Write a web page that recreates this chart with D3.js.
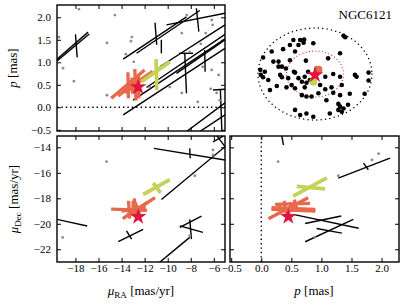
<!DOCTYPE html>
<html><head><meta charset="utf-8">
<script src="https://cdn.jsdelivr.net/npm/d3@7"></script>
<style>
body{margin:0;background:#fff}
text{font-family:"Liberation Serif","DejaVu Serif",serif;fill:#000}
</style>
</head><body>
<svg id="c" width="407" height="305"></svg>
<script>
// ---------- tick labels ----------
const muRATicks = [-18,-16,-14,-12,-10,-8,-6];
const pTicks = [-0.5,0,0.5,1,1.5,2];
const muDecTicks = [-22,-20,-18,-16,-14];
const clusterName = "NGC6121";

// ---------- highlighted stars (muRA, muDec, parallax) ----------
const target = {muRA:-12.56, muDec:-19.44, p:0.45};
const limeStar = {muRA:-10.97, muDec:-17.18, p:0.82};

// ---------- error crosses: [x1,y1,x2,y2] in data units ----------
// top-left: muRA vs parallax
const tlBlack = [
 [-19.6,1.03,-16.8,1.63],[-19.6,1.07,-16.9,1.67],[-18.0,1.62,-17.85,1.11],
 [-13.86,-0.17,-5.03,1.31],[-13.0,0.16,-5.03,1.52],[-11.84,0.44,-5.03,1.62],
 [-13.86,1.07,-8.37,2.01],[-12.7,1.2,-7.22,2.15],[-10.1,1.83,-5.03,2.09],
 [-10.68,0.9,-5.03,1.83],[-9.24,0.755,-5.03,1.5],[-8.37,-0.54,-5.03,0.1],
 [-7.22,-0.54,-5.03,-0.17],[-11.1,1.88,-10.95,1.39],[-10.55,1.5,-10.55,1.2],
 [-8.52,1.2,-8.37,0.31],[-6.79,1.27,-6.75,0.79],[-7.51,2.2,-7.3,1.68],
 [-5.43,0.385,-5.3,-0.54],[-6.07,0.385,-5.03,0.4],[-9.0,1.2,-7.8,1.2]
];
const tlOrange = [
 [-14.9,0.2,-12.0,0.83],[-13.45,0.78,-13.4,0.2],
 [-14.3,0.25,-11.6,0.75],[-12.85,0.85,-12.75,0.15],
 [-13.7,0.32,-11.3,0.8],[-12.55,0.7,-12.5,0.2],
 [-14.0,0.36,-12.0,0.66],[-13.1,0.66,-13.05,0.3]
];
const tlLime = [[-12.27,0.57,-9.82,1.01],[-11.0,1.07,-10.95,0.385]];

// bottom-left: muRA vs muDec
const blBlack = [
 [-19.63,-19.65,-16.98,-20.17],
 [-14.29,-21.41,-12.13,-20.43],[-13.57,-20.55,-13.13,-21.2],
 [-10.54,-18.1,-5.03,-13.95],
 [-11.2,-14.08,-5.03,-14.99],[-8.09,-14.08,-8.05,-14.85],
 [-6.07,-13.57,-5.03,-13.04],[-5.78,-13.04,-5.03,-13.95],
 [-8.95,-20.29,-7.07,-19.39],[-8.95,-20.17,-6.94,-20.68],
 [-8.09,-19.65,-7.94,-21.2],[-10.8,-23.1,-8.09,-21.07]
];
const blOrange = [
 [-14.9,-18.85,-11.8,-18.95],[-13.4,-18.2,-13.3,-19.6],
 [-13.9,-19.6,-11.1,-17.95],[-12.9,-18.2,-12.4,-19.2],
 [-13.5,-19.3,-11.7,-18.3],[-12.9,-18.0,-12.8,-19.3],
 [-14.0,-19.0,-11.9,-18.7],[-13.0,-18.2,-13.0,-19.4]
];
const blLime = [[-12.13,-17.7,-9.82,-16.54],[-11.26,-16.8,-10.62,-17.57]];

// bottom-right: parallax vs muDec
const brBlack = [
 [1.28,-16.41,2.14,-14.85],[1.70,-15.24,1.78,-15.76],
 [0.53,-19.26,1.62,-20.35],[0.73,-19.98,1.33,-19.39],
 [0.73,-21.41,1.53,-19.65],[0.92,-20.37,1.34,-20.73],
 [0.34,-13.1,0.37,-13.82]
];
const brOrange = [
 [0.17,-18.74,0.9,-18.87],[0.12,-19.6,0.78,-17.96],
 [0.23,-18.48,0.81,-18.4],[0.17,-18.87,0.9,-19.0],
 [0.38,-18.2,0.42,-19.3],[0.48,-18.3,0.5,-19.1],
 [0.3,-18.5,0.33,-19.2],[0.55,-18.1,0.6,-19.0]
];
const brLime = [[0.53,-17.83,1.09,-16.4],[0.59,-17.06,1.06,-17.26]];

// ---------- faint gray field points ----------
const tlGray = [[-17.7,2.18],[-14.58,2.05],[-19.43,1.56],[-15.27,1.43],[-13.11,1.56],[-13.19,1.47],
 [-13.63,1.18],[-12.94,1.01],[-19.08,0.87],[-18.13,0.58],[-15.27,0.27],[-8.78,1.65],[-8.35,2.05],
 [-6.7,1.65],[-6.18,1.94],[-6.1,1.83],[-7.13,1.41],[-8.09,1.23],[-6.96,0.9],[-6.18,0.83],
 [-11.55,0.45],[-9.82,0.45],[-8.78,0.32],[-7.39,0.12],[-6.27,0.41],[-5.75,0.32],[-5.49,0.16],[-5.58,0.72]];
const blGray = [[-15.3,-15.12],[-19.11,-21.07],[-7.65,-16.23],[-6.07,-14.2],[-6.07,-14.6],[-8.09,-20.94]];
const brGray = [[0.28,-15.12],[1.28,-16.23],[1.84,-14.98],[1.95,-14.5],[0.89,-21.07]];

// ---------- sky positions (normalised to cluster radius) ----------
const skyMembers = [[0.50,0.83],[0.53,0.80],[-0.38,0.74],[-0.26,0.74],[-0.19,0.75],[-0.20,0.68],[-0.44,0.63],
 [-0.03,0.67],[-0.29,0.63],[-0.56,0.54],[-0.76,0.49],[-0.35,0.49],[0.44,0.45],[0.23,0.34],[-0.16,0.29],
 [-0.44,0.30],[-0.91,0.36],[-0.73,0.27],[-0.64,0.27],[-0.64,0.16],[-0.58,0.16],[-0.51,0.12],[-0.37,0.05],
 [-0.96,0.09],[-0.88,0.05],[-0.95,-0.02],[-0.91,-0.07],[-0.82,-0.13],[-0.61,-0.02],[-0.58,-0.07],[-0.47,-0.09],
 [-0.35,0.03],[-0.29,-0.09],[-0.12,0.05],[-0.18,-0.06],[-0.09,-0.13],[-0.23,-0.17],[-0.15,-0.19],[0.03,0.12],
 [0.18,-0.06],[0.32,0.0],[0.44,-0.06],[0.70,-0.02],[0.73,-0.06],[0.94,0.03],[0.94,-0.14],[-0.79,-0.35],
 [-0.67,-0.26],[-0.50,-0.29],[-0.41,-0.24],[-0.35,-0.31],[-0.18,-0.29],[-0.23,-0.46],[-0.15,-0.49],[-0.06,-0.49],
 [0.06,-0.42],[0.09,-0.24],[0.18,-0.33],[0.29,-0.29],[0.32,-0.41],[0.47,-0.24],[0.44,-0.46],[0.61,-0.43],
 [0.87,-0.43],[0.20,-0.57],[0.41,-0.65],[0.44,-0.71],[0.50,-0.75],[0.58,-0.67],[0.47,-0.82],[0.41,-0.78],
 [-0.35,-0.78],[-0.26,-0.89],[-0.15,-0.86],[-0.03,-0.93],[0.26,-0.86]];
const skyTarget = [0.0,-0.02];
const skyOrange = [0.06,0.09];
const skyLime = [-0.03,-0.17];
const outerRadius = 1.0, innerRadius = 0.5;

// ---------- drawing ----------
const svg = d3.select("#c");
const C = {black:"#000", gray:"#8c8c8c", orange:"#e8684a", lime:"#c5d25a", red:"#e0143c"};

const xRA = d3.scaleLinear().domain([-19.6,-5.03]).range([57,225]);
const yP = d3.scaleLinear().domain([-0.527,2.273]).range([131,5]);
const yDec = d3.scaleLinear().domain([-23.0,-13.11]).range([262,136]);
const xP = d3.scaleLinear().domain([-0.52,2.29]).range([230,399]);
const xU = d3.scaleLinear().domain([-1,1]).range([258,372]);
const yV = d3.scaleLinear().domain([-1,1]).range([120,28]);

const fmtP = d3.format(".1f"), fmtI = d3.format("d");

function panel(id, xs, ys, xt, yt, xf, yf, showX, showY){
  const [x0,x1] = xs.range(), [y1,y0] = ys.range();
  svg.append("clipPath").attr("id",id).append("rect")
    .attr("x",x0).attr("y",y0).attr("width",x1-x0).attr("height",y1-y0);
  const g = svg.append("g");
  const axes = [
    [d3.axisBottom(xs).tickValues(xt).tickFormat(showX?xf:""), `translate(0,${y1})`],
    [d3.axisTop(xs).tickValues(xt).tickFormat(""), `translate(0,${y0})`],
    [d3.axisLeft(ys).tickValues(yt).tickFormat(showY?yf:""), `translate(${x0},0)`],
    [d3.axisRight(ys).tickValues(yt).tickFormat(""), `translate(${x1},0)`]
  ];
  axes.forEach(([ax,tr],i)=>{
    ax.tickSizeInner(-4).tickSizeOuter(0).tickPadding(i===0?2:6);
    const a = g.append("g").attr("transform",tr).call(ax);
    a.select(".domain").remove();
    a.selectAll("line").attr("stroke","#000").attr("stroke-width",1);
    a.attr("font-family",null).attr("font-size",null);
    a.selectAll("text").style("font-size","11px");
  });
  const body = svg.append("g").attr("clip-path",`url(#${id})`);
  svg.append("rect").attr("x",x0).attr("y",y0).attr("width",x1-x0).attr("height",y1-y0)
    .attr("fill","none").attr("stroke","#000").attr("stroke-width",1.4);
  return body;
}

function segs(g, data, xs, ys, color, w){
  g.selectAll(null).data(data).join("line")
    .attr("x1",d=>xs(d[0])).attr("y1",d=>ys(d[1]))
    .attr("x2",d=>xs(d[2])).attr("y2",d=>ys(d[3]))
    .attr("stroke",color).attr("stroke-width",w);
}
function dots(g, data, xs, ys, color, r){
  g.selectAll(null).data(data).join("circle")
    .attr("cx",d=>xs(d[0])).attr("cy",d=>ys(d[1])).attr("r",r).attr("fill",color);
}
const star = d3.symbol(d3.symbolStar, 86)();
function drawStar(g, x, y){
  g.append("path").attr("d", star)
    .attr("transform",`translate(${x},${y})`).attr("fill",C.red);
}

// Top-left
const tl = panel("cTL", xRA, yP, muRATicks, pTicks, fmtI, fmtP, false, true);
tl.append("line").attr("x1",xRA.range()[0]).attr("x2",xRA.range()[1])
  .attr("y1",yP(0)).attr("y2",yP(0)).attr("stroke","#000").attr("stroke-width",1.4).attr("stroke-dasharray","1.4,3");
segs(tl, tlBlack, xRA, yP, C.black, 1.4);
dots(tl, tlGray, xRA, yP, C.gray, 1.4);
segs(tl, tlOrange, xRA, yP, C.orange, 3.3);
segs(tl, tlLime, xRA, yP, C.lime, 3.8);
drawStar(tl, xRA(target.muRA), yP(target.p));

// Bottom-left
const bl = panel("cBL", xRA, yDec, muRATicks, muDecTicks, fmtI, fmtI, true, true);
segs(bl, blBlack, xRA, yDec, C.black, 1.4);
dots(bl, blGray, xRA, yDec, C.gray, 1.4);
segs(bl, blOrange, xRA, yDec, C.orange, 3.3);
segs(bl, blLime, xRA, yDec, C.lime, 3.8);
drawStar(bl, xRA(target.muRA), yDec(target.muDec));

// Bottom-right
const br = panel("cBR", xP, yDec, pTicks, muDecTicks, fmtP, fmtI, true, false);
br.append("line").attr("y1",yDec.range()[0]).attr("y2",yDec.range()[1])
  .attr("x1",xP(0)).attr("x2",xP(0)).attr("stroke","#000").attr("stroke-width",1.4).attr("stroke-dasharray","1.4,3");
segs(br, brBlack, xP, yDec, C.black, 1.4);
dots(br, brGray, xP, yDec, C.gray, 1.4);
segs(br, brOrange, xP, yDec, C.orange, 3.3);
segs(br, brLime, xP, yDec, C.lime, 3.8);
drawStar(br, xP(target.p), yDec(target.muDec));

// Top-right sky map
const tr = svg.append("g");
tr.append("ellipse").attr("cx",xU(0)).attr("cy",yV(0))
  .attr("rx",xU(outerRadius)-xU(0)).attr("ry",yV(0)-yV(outerRadius))
  .attr("fill","none").attr("stroke","#000").attr("stroke-width",1.5)
  .attr("stroke-linecap","round").attr("stroke-dasharray","0,4.4");
tr.append("ellipse").attr("cx",xU(0)).attr("cy",yV(0))
  .attr("rx",xU(innerRadius)-xU(0)).attr("ry",yV(0)-yV(innerRadius))
  .attr("fill","none").attr("stroke",C.red).attr("stroke-width",1.2)
  .attr("stroke-linecap","round").attr("stroke-dasharray","0,3.3");
dots(tr, skyMembers, xU, yV, "#000", 2.3);
tr.append("circle").attr("cx",xU(skyOrange[0])).attr("cy",yV(skyOrange[1])).attr("r",4).attr("fill",C.orange);
tr.append("circle").attr("cx",xU(skyLime[0])).attr("cy",yV(skyLime[1])).attr("r",4).attr("fill",C.lime);
drawStar(tr, xU(skyTarget[0]), yV(skyTarget[1]));
svg.append("text").attr("x",392).attr("y",19).attr("text-anchor","end")
  .style("font-size","13px").text(clusterName);

// Axis labels
function pLabel(sel){
  sel.append("tspan").style("font-style","italic").text("p");
  sel.append("tspan").text(" [mas]");
}
function muLabel(sel, sub){
  sel.append("tspan").style("font-style","italic").text("μ");
  sel.append("tspan").attr("dy",3).style("font-size","9px").text(sub);
  sel.append("tspan").attr("dy",-3).text(" [mas/yr]");
}
svg.append("text").attr("transform","translate(17,68) rotate(-90)").attr("text-anchor","middle")
  .style("font-size","13px").call(pLabel);
svg.append("text").attr("transform","translate(18,199) rotate(-90)").attr("text-anchor","middle")
  .style("font-size","13px").call(muLabel,"Dec");
svg.append("text").attr("x",141).attr("y",295).attr("text-anchor","middle")
  .style("font-size","13px").call(muLabel,"RA");
svg.append("text").attr("x",314).attr("y",295).attr("text-anchor","middle")
  .style("font-size","13px").call(pLabel);
</script>
</body></html>
